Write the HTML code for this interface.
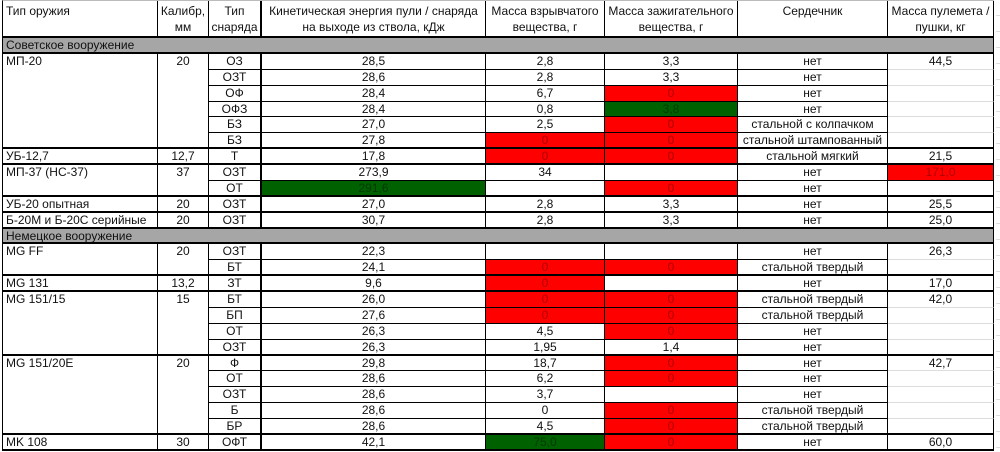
<!DOCTYPE html>
<html><head><meta charset="utf-8"><style>
html,body{margin:0;padding:0;background:#fff;width:1000px;height:452px;overflow:hidden}
body{font-family:"Liberation Sans",Arial,sans-serif;font-size:12px;color:#111}
.g{position:absolute;left:2px;top:0;display:grid;grid-template-columns:155px 51px 53px 224px 119px 133px 150px 106px;grid-template-rows:37px repeat(26,15.88px);border-left:1px solid #000;border-top:1px solid #bbb}
.g>div{box-sizing:border-box;border-right:1px solid #000;border-bottom:1px solid #000;text-align:center;line-height:15px;white-space:nowrap;overflow:hidden}
.g>div.l{text-align:left;padding-left:3px}
.h{line-height:16px!important;padding-top:2px;border-bottom:2px solid #000!important}
.s{grid-column:1/-1;background:#a6a6a6;text-align:left!important;padding-left:3px;border-bottom:2px solid #000!important}
.r{background:#ff0000;color:#b00000}
.gr{background:#006100;color:#003a00}
.b{border-bottom:2px solid #000!important}
.n{border-bottom:1px solid #ddd!important}
.bt{border-right:2px solid #000!important}
.ext{position:absolute;left:996px;top:0;width:4px;height:452px;background:repeating-linear-gradient(#fff 0 15px,#ddd 15px 16px)}
</style></head><body>
<div class="ext"></div>
<div class="g">
<div class="h l">Тип оружия</div><div class="h">Калибр,<br>мм</div><div class="h bt">Тип<br>снаряда</div><div class="h">Кинетическая энергия пули / снаряда<br>на выходе из ствола, кДж</div><div class="h">Масса взрывчатого<br>вещества, г</div><div class="h">Масса зажигательного<br>вещества, г</div><div class="h">Сердечник</div><div class="h">Масса пулемета /<br>пушки, кг</div>
<div class="s">Советское вооружение</div>
<div class="l b" style="grid-row:span 6">МП-20</div><div class="b" style="grid-row:span 6">20</div>
<div class="bt">ОЗ</div><div>28,5</div><div>2,8</div><div>3,3</div><div>нет</div><div class="n">44,5</div>
<div class="bt">ОЗТ</div><div>28,6</div><div>2,8</div><div>3,3</div><div>нет</div><div class="n"></div>
<div class="bt">ОФ</div><div>28,4</div><div>6,7</div><div class="r">0</div><div>нет</div><div class="n"></div>
<div class="bt">ОФЗ</div><div>28,4</div><div>0,8</div><div class="gr">3,8</div><div>нет</div><div class="n"></div>
<div class="bt">БЗ</div><div>27,0</div><div>2,5</div><div class="r">0</div><div>стальной с колпачком</div><div class="n"></div>
<div class="bt b">БЗ</div><div class="b">27,8</div><div class="r b">0</div><div class="r b">0</div><div class="b">стальной штампованный</div><div class="b"></div>
<div class="l b">УБ-12,7</div><div class="b">12,7</div><div class="bt b">Т</div><div class="b">17,8</div><div class="r b">0</div><div class="r b">0</div><div class="b">стальной мягкий</div><div class="b">21,5</div>
<div class="l b" style="grid-row:span 2">МП-37 (НС-37)</div><div class="b" style="grid-row:span 2">37</div>
<div class="bt">ОЗТ</div><div>273,9</div><div>34</div><div></div><div>нет</div><div class="r">171,0</div>
<div class="bt b">ОТ</div><div class="gr b">291,6</div><div class="b"></div><div class="r b">0</div><div class="b">нет</div><div class="b"></div>
<div class="l b">УБ-20 опытная</div><div class="b">20</div><div class="bt b">ОЗТ</div><div class="b">27,0</div><div class="b">2,8</div><div class="b">3,3</div><div class="b">нет</div><div class="b">25,5</div>
<div class="l b">Б-20М и Б-20С серийные</div><div class="b">20</div><div class="bt b">ОЗТ</div><div class="b">30,7</div><div class="b">2,8</div><div class="b">3,3</div><div class="b">нет</div><div class="b">25,0</div>
<div class="s">Немецкое вооружение</div>
<div class="l b" style="grid-row:span 2">MG FF</div><div class="b" style="grid-row:span 2">20</div>
<div class="bt">ОЗТ</div><div>22,3</div><div></div><div></div><div>нет</div><div class="n">26,3</div>
<div class="bt b">БТ</div><div class="b">24,1</div><div class="r b">0</div><div class="r b">0</div><div class="b">стальной твердый</div><div class="b"></div>
<div class="l b">MG 131</div><div class="b">13,2</div><div class="bt b">ЗТ</div><div class="b">9,6</div><div class="r b">0</div><div class="b"></div><div class="b">нет</div><div class="b">17,0</div>
<div class="l b" style="grid-row:span 4">MG 151/15</div><div class="b" style="grid-row:span 4">15</div>
<div class="bt">БТ</div><div>26,0</div><div class="r">0</div><div class="r">0</div><div>стальной твердый</div><div class="n">42,0</div>
<div class="bt">БП</div><div>27,6</div><div class="r">0</div><div class="r">0</div><div>стальной твердый</div><div class="n"></div>
<div class="bt">ОТ</div><div>26,3</div><div>4,5</div><div class="r">0</div><div>нет</div><div class="n"></div>
<div class="bt b">ОЗТ</div><div class="b">26,3</div><div class="b">1,95</div><div class="b">1,4</div><div class="b">нет</div><div class="b"></div>
<div class="l b" style="grid-row:span 5">MG 151/20E</div><div class="b" style="grid-row:span 5">20</div>
<div class="bt">Ф</div><div>29,8</div><div>18,7</div><div class="r">0</div><div>нет</div><div class="n">42,7</div>
<div class="bt">ОТ</div><div>28,6</div><div>6,2</div><div class="r">0</div><div>нет</div><div class="n"></div>
<div class="bt">ОЗТ</div><div>28,6</div><div>3,7</div><div></div><div>нет</div><div class="n"></div>
<div class="bt">Б</div><div>28,6</div><div>0</div><div class="r">0</div><div>стальной твердый</div><div class="n"></div>
<div class="bt b">БР</div><div class="b">28,6</div><div class="b">4,5</div><div class="r b">0</div><div class="b">стальной твердый</div><div class="b"></div>
<div class="l b">MK 108</div><div class="b">30</div><div class="bt b">ОФТ</div><div class="b">42,1</div><div class="gr b">75,0</div><div class="r b">0</div><div class="b">нет</div><div class="b">60,0</div>
</div>
</body></html>
